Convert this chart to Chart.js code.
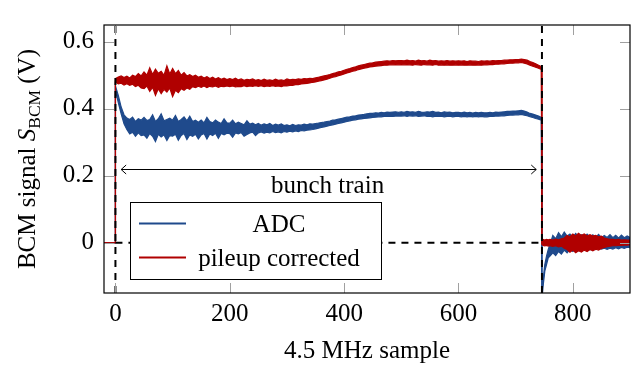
<!DOCTYPE html>
<html>
<head>
<meta charset="utf-8">
<script src="https://cdn.jsdelivr.net/npm/chart.js@4.4.0/dist/chart.umd.min.js"></script>
<style>
  html, body { margin: 0; padding: 0; background: #fff; }
  #wrap { width: 633px; height: 366px; }
</style>
</head>
<body>
<div id="wrap"><canvas id="chart" width="633" height="366"></canvas></div>
<script>
const seriesNames = ["ADC", "pileup corrected"];
const xTicks = [0, 200, 400, 600, 800];
const yTicks = [0, 0.2, 0.4, 0.6];
const trainMarks = [0, 746];
const arrowSpan = [10, 736];

// The signal is sampled so densely that it shows as a noisy band:
// each series is kept as the upper and lower edge of that band.

// before the bunch train
const preX = [-20, -0.01];
const preLevel = [0, 0];

// during the train, one value every 5 samples from sample 0
const trainStep = 5;
const adcUpper = [
  0.468,0.440,0.405,0.382,0.372,0.368,0.375,0.362,0.370,0.366,
  0.374,0.365,0.368,0.382,0.362,0.370,0.385,0.364,0.368,0.372,
  0.366,0.380,0.362,0.368,0.376,0.364,0.378,0.362,0.366,0.360,
  0.366,0.358,0.374,0.362,0.358,0.366,0.360,0.356,0.370,0.358,
  0.357,0.366,0.355,0.360,0.356,0.352,0.364,0.354,0.357,0.352,
  0.356,0.351,0.355,0.352,0.356,0.350,0.354,0.351,0.355,0.350,
  0.352,0.349,0.353,0.350,0.352,0.351,0.354,0.352,0.355,0.354,
  0.356,0.357,0.359,0.360,0.362,0.363,0.366,0.367,0.369,0.371,
  0.373,0.375,0.376,0.378,0.379,0.381,0.382,0.383,0.385,0.386,
  0.386,0.388,0.387,0.389,0.388,0.390,0.389,0.390,0.391,0.389,
  0.391,0.389,0.392,0.390,0.391,0.389,0.392,0.390,0.389,0.391,
  0.390,0.392,0.389,0.390,0.388,0.391,0.389,0.390,0.388,0.389,
  0.389,0.388,0.390,0.388,0.389,0.387,0.389,0.388,0.389,0.388,
  0.388,0.389,0.388,0.390,0.389,0.390,0.391,0.392,0.392,0.393,
  0.393,0.394,0.395,0.393,0.390,0.386,0.384,0.381,0.378,0.374
];
const adcLower = [
  0.455,0.418,0.385,0.355,0.338,0.325,0.330,0.318,0.328,0.320,
  0.322,0.312,0.326,0.318,0.302,0.324,0.316,0.322,0.305,0.320,
  0.318,0.324,0.306,0.320,0.326,0.308,0.322,0.318,0.324,0.310,
  0.322,0.326,0.310,0.325,0.320,0.327,0.312,0.326,0.322,0.327,
  0.326,0.315,0.328,0.325,0.329,0.318,0.323,0.328,0.330,0.320,
  0.328,0.331,0.327,0.330,0.328,0.332,0.329,0.331,0.328,0.332,
  0.330,0.333,0.331,0.334,0.332,0.335,0.334,0.336,0.337,0.338,
  0.340,0.342,0.344,0.346,0.348,0.350,0.352,0.354,0.356,0.358,
  0.360,0.362,0.364,0.366,0.367,0.369,0.370,0.371,0.372,0.373,
  0.374,0.375,0.376,0.376,0.377,0.377,0.378,0.377,0.378,0.378,
  0.378,0.379,0.377,0.379,0.378,0.379,0.377,0.378,0.379,0.377,
  0.378,0.376,0.378,0.377,0.378,0.376,0.377,0.378,0.376,0.377,
  0.377,0.376,0.377,0.376,0.377,0.376,0.377,0.376,0.377,0.376,
  0.376,0.377,0.377,0.378,0.378,0.379,0.379,0.380,0.381,0.381,
  0.382,0.382,0.383,0.381,0.379,0.376,0.374,0.371,0.369,0.366
];
const corrUpper = [
  0.490,0.495,0.498,0.493,0.497,0.492,0.500,0.496,0.505,0.498,
  0.510,0.500,0.522,0.502,0.518,0.506,0.512,0.500,0.528,0.504,
  0.520,0.505,0.514,0.500,0.508,0.498,0.502,0.496,0.500,0.494,
  0.497,0.492,0.496,0.490,0.494,0.489,0.493,0.488,0.491,0.487,
  0.490,0.487,0.491,0.486,0.489,0.485,0.488,0.486,0.489,0.485,
  0.487,0.484,0.488,0.485,0.486,0.484,0.488,0.485,0.486,0.484,
  0.489,0.486,0.488,0.487,0.489,0.488,0.490,0.489,0.491,0.490,
  0.492,0.494,0.496,0.498,0.500,0.502,0.505,0.507,0.510,0.512,
  0.515,0.518,0.520,0.523,0.525,0.528,0.530,0.532,0.534,0.536,
  0.537,0.539,0.540,0.541,0.542,0.543,0.542,0.544,0.543,0.544,
  0.544,0.543,0.545,0.543,0.544,0.542,0.545,0.543,0.544,0.542,
  0.545,0.543,0.544,0.542,0.543,0.542,0.544,0.542,0.543,0.542,
  0.543,0.542,0.543,0.541,0.543,0.542,0.542,0.541,0.543,0.542,
  0.543,0.542,0.544,0.543,0.544,0.544,0.545,0.545,0.546,0.546,
  0.547,0.547,0.548,0.547,0.545,0.541,0.538,0.534,0.530,0.526
];
const corrLower = [
  0.480,0.474,0.476,0.471,0.475,0.470,0.473,0.466,0.470,0.462,
  0.460,0.468,0.452,0.464,0.440,0.460,0.445,0.458,0.450,0.462,
  0.436,0.455,0.448,0.460,0.455,0.462,0.458,0.466,0.463,0.467,
  0.464,0.468,0.463,0.467,0.465,0.468,0.464,0.467,0.466,0.468,
  0.466,0.468,0.465,0.467,0.466,0.469,0.466,0.468,0.467,0.469,
  0.467,0.469,0.466,0.468,0.467,0.469,0.467,0.468,0.466,0.469,
  0.468,0.470,0.470,0.472,0.472,0.474,0.475,0.476,0.477,0.479,
  0.480,0.482,0.484,0.486,0.488,0.491,0.494,0.496,0.499,0.501,
  0.504,0.507,0.509,0.512,0.514,0.517,0.519,0.521,0.523,0.525,
  0.526,0.527,0.528,0.529,0.530,0.530,0.531,0.531,0.532,0.531,
  0.532,0.531,0.532,0.531,0.530,0.532,0.531,0.530,0.532,0.531,
  0.531,0.530,0.532,0.530,0.531,0.530,0.531,0.530,0.530,0.531,
  0.530,0.531,0.530,0.530,0.531,0.530,0.530,0.531,0.530,0.531,
  0.531,0.532,0.532,0.533,0.533,0.534,0.534,0.535,0.536,0.536,
  0.537,0.537,0.538,0.536,0.534,0.530,0.527,0.524,0.521,0.517
];

// after the train
const postX = [746,748,751,754,757,760,765,770,775,780,785,790,795,800,805,810,815,
  820,825,830,835,840,845,850,855,860,865,870,875,880,885,890,895,900];
const postAdcUpper = [-0.15,-0.11,-0.065,-0.04,-0.02,-0.005,0.022,0.012,0.030,0.018,
  0.032,0.020,0.026,0.016,0.028,0.018,0.024,0.017,0.026,0.016,0.024,0.016,0.025,
  0.015,0.022,0.016,0.024,0.015,0.022,0.014,0.023,0.015,0.020,0.016];
const postAdcLower = [-0.17,-0.13,-0.085,-0.065,-0.045,-0.040,-0.030,-0.038,-0.026,
  -0.034,-0.022,-0.030,-0.020,-0.026,-0.018,-0.024,-0.016,-0.022,-0.017,-0.021,
  -0.016,-0.020,-0.015,-0.019,-0.016,-0.020,-0.016,-0.019,-0.015,-0.018,-0.014,
  -0.017,-0.013,-0.015];
const postCorrUpper = [0.005,0.010,0.008,0.010,0.009,0.010,0.008,0.011,0.009,0.012,
  0.014,0.022,0.018,0.026,0.020,0.028,0.022,0.026,0.020,0.024,0.020,0.022,0.018,
  0.020,0.014,0.012,0.010,0.010,0.009,0.010,0.008,0.009,0.008,0.008];
const postCorrLower = [-0.005,-0.008,-0.009,-0.008,-0.010,-0.009,-0.011,-0.009,-0.012,
  -0.010,-0.016,-0.020,-0.028,-0.022,-0.030,-0.024,-0.028,-0.022,-0.026,-0.020,
  -0.024,-0.019,-0.022,-0.017,-0.014,-0.012,-0.010,-0.009,-0.009,-0.008,-0.008,
  -0.007,-0.007,-0.006];

const blue = "#1f4a8c";
const red = "#b00000";
const serif = "'Liberation Serif', 'DejaVu Serif', serif";

const buildPoints = (pre, train, post) => {
  const pts = preX.map((x, i) => ({ x: x, y: pre[i] }));
  train.forEach((v, i) => pts.push({ x: i * trainStep, y: v }));
  postX.forEach((x, i) => pts.push({ x: x, y: post[i] }));
  return pts;
};

const band = (label, color, data, fill, order) => ({
  label: label,
  data: data,
  borderColor: color,
  backgroundColor: color,
  borderWidth: 1.2,
  fill: fill,
  order: order,
  clip: 0,
});

const overlay = {
  id: "overlay",
  afterDatasetsDraw(chart) {
    const { ctx, chartArea: a, scales: { x, y } } = chart;
    ctx.save();
    ctx.beginPath();
    ctx.rect(a.left, a.top, a.right - a.left, a.bottom - a.top);
    ctx.clip();

    // dashed markers
    ctx.strokeStyle = "#000";
    ctx.lineWidth = 2;
    ctx.setLineDash([7, 6]);
    const y0 = y.getPixelForValue(0);
    ctx.beginPath();
    ctx.moveTo(x.getPixelForValue(trainMarks[0]), y0);
    ctx.lineTo(x.getPixelForValue(trainMarks[1]), y0);
    ctx.stroke();
    trainMarks.forEach((m) => {
      const px = x.getPixelForValue(m);
      ctx.beginPath();
      ctx.moveTo(px, a.bottom);
      ctx.lineTo(px, a.top);
      ctx.stroke();
    });
    ctx.setLineDash([]);

    // bunch train arrow
    const ay = Math.round(y.getPixelForValue(0.22)) + 0.5;
    const ax1 = x.getPixelForValue(arrowSpan[0]);
    const ax2 = x.getPixelForValue(arrowSpan[1]);
    ctx.lineWidth = 1;
    ctx.beginPath();
    ctx.moveTo(ax1, ay);
    ctx.lineTo(ax2, ay);
    ctx.moveTo(ax1 + 5, ay - 4.5);
    ctx.lineTo(ax1, ay);
    ctx.lineTo(ax1 + 5, ay + 4.5);
    ctx.moveTo(ax2 - 5, ay - 4.5);
    ctx.lineTo(ax2, ay);
    ctx.lineTo(ax2 - 5, ay + 4.5);
    ctx.stroke();
    ctx.fillStyle = "#000";
    ctx.font = "25px " + serif;
    ctx.textAlign = "center";
    ctx.textBaseline = "alphabetic";
    ctx.fillText("bunch train", x.getPixelForValue(371), 193);

    // legend
    const lx = 130.5, ly = 202.5, lw = 251, lh = 77;
    ctx.fillStyle = "#fff";
    ctx.fillRect(lx, ly, lw, lh);
    ctx.strokeStyle = "#000";
    ctx.lineWidth = 1;
    ctx.strokeRect(lx, ly, lw, lh);
    [blue, red].forEach((c, i) => {
      const ry = 223.5 + i * 34;
      ctx.strokeStyle = c;
      ctx.lineWidth = 2;
      ctx.beginPath();
      ctx.moveTo(139, ry);
      ctx.lineTo(186, ry);
      ctx.stroke();
      ctx.fillStyle = "#000";
      ctx.fillText(seriesNames[i], 279, ry + 8.5);
    });
    ctx.restore();

    // ticks and frame
    ctx.save();
    ctx.strokeStyle = "#a0a0a0";
    ctx.lineWidth = 1;
    ctx.beginPath();
    xTicks.forEach((v) => {
      const px = Math.round(x.getPixelForValue(v)) + 0.5;
      ctx.moveTo(px, a.bottom); ctx.lineTo(px, a.bottom - 10);
      ctx.moveTo(px, a.top); ctx.lineTo(px, a.top + 10);
    });
    yTicks.forEach((v) => {
      const py = Math.round(y.getPixelForValue(v)) + 0.5;
      ctx.moveTo(a.left, py); ctx.lineTo(a.left + 10, py);
      ctx.moveTo(a.right, py); ctx.lineTo(a.right - 10, py);
    });
    ctx.stroke();
    ctx.strokeStyle = "#000";
    ctx.lineWidth = 1.2;
    ctx.strokeRect(a.left, a.top, a.right - a.left, a.bottom - a.top);
    ctx.restore();
  },
  afterDraw(chart) {
    const { ctx, chartArea: a } = chart;
    ctx.save();
    ctx.fillStyle = "#000";
    ctx.textBaseline = "alphabetic";
    ctx.font = "25px " + serif;
    ctx.textAlign = "center";
    ctx.fillText("4.5 MHz sample", (a.left + a.right) / 2, 358);

    // y title with subscript, rotated
    const parts = [
      { t: "BCM signal ", f: "25px " + serif, dy: 0 },
      { t: "S", f: "italic 25px " + serif, dy: 0 },
      { t: "BCM", f: "17.5px " + serif, dy: 5 },
      { t: " (V)", f: "25px " + serif, dy: 0 },
    ];
    let total = 0;
    parts.forEach((p) => { ctx.font = p.f; p.w = ctx.measureText(p.t).width; total += p.w; });
    ctx.translate(35, (a.top + a.bottom) / 2);
    ctx.rotate(-Math.PI / 2);
    ctx.textAlign = "left";
    let cx = -total / 2;
    parts.forEach((p) => { ctx.font = p.f; ctx.fillText(p.t, cx, p.dy); cx += p.w; });
    ctx.restore();
  },
};

new Chart(document.getElementById("chart"), {
  type: "line",
  data: {
    datasets: [
      band(seriesNames[0], blue, buildPoints(preLevel, adcLower, postAdcLower), false, 4),
      band(seriesNames[0], blue, buildPoints(preLevel, adcUpper, postAdcUpper), "-1", 3),
      band(seriesNames[1], red, buildPoints(preLevel, corrLower, postCorrLower), false, 2),
      band(seriesNames[1], red, buildPoints(preLevel, corrUpper, postCorrUpper), "-1", 1),
    ],
  },
  options: {
    responsive: false,
    animation: false,
    devicePixelRatio: 1,
    layout: { padding: { top: 14, right: 3, left: 0, bottom: 0 } },
    elements: { point: { radius: 0 }, line: { tension: 0 } },
    plugins: { legend: { display: false }, tooltip: { enabled: false } },
    scales: {
      x: {
        type: "linear",
        min: -20,
        max: 900,
        grid: { display: false, drawTicks: false },
        border: { display: false },
        afterBuildTicks: (s) => { s.ticks = xTicks.map((v) => ({ value: v })); },
        afterFit: (s) => { s.height = 73; },
        ticks: { color: "#000", font: { family: serif, size: 25 }, padding: 6 },
      },
      y: {
        type: "linear",
        min: -0.15,
        max: 0.65,
        grid: { display: false, drawTicks: false },
        border: { display: false },
        afterBuildTicks: (s) => { s.ticks = yTicks.map((v) => ({ value: v })); },
        afterFit: (s) => { s.width = 104; },
        ticks: {
          color: "#000",
          font: { family: serif, size: 25 },
          padding: 10,
          callback: (v) => (v === 0 ? "0" : v.toFixed(1)),
        },
      },
    },
  },
  plugins: [overlay],
});
</script>
</body>
</html>
